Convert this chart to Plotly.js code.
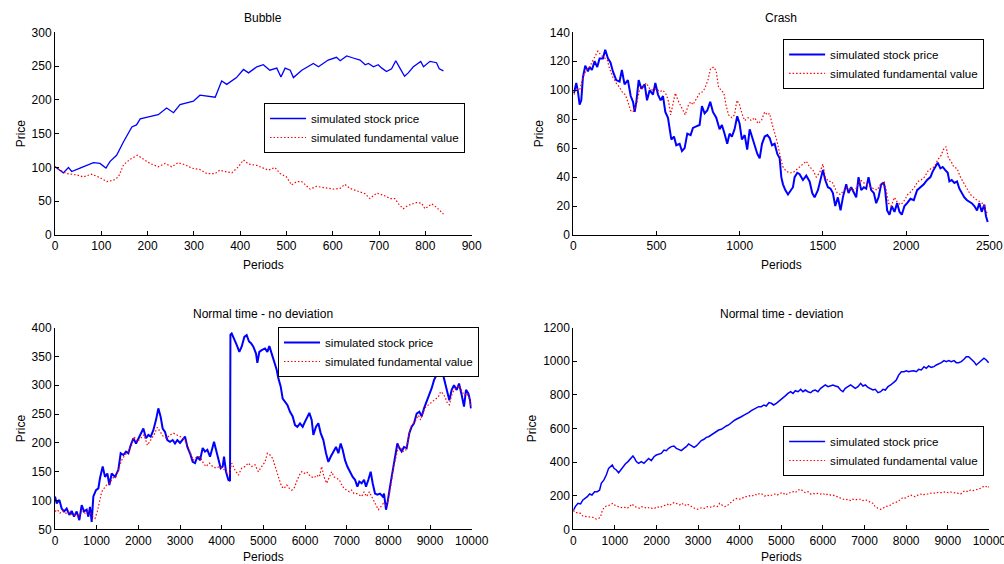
<!DOCTYPE html>
<html>
<head>
<meta charset="utf-8">
<script src="https://cdn.plot.ly/plotly-3.0.1.min.js"></script>
<style>html,body{margin:0;padding:0;background:#fff;}#chart{width:1004px;height:564px;}</style>
</head>
<body>
<div id="chart"></div>
<script>
// ---------- Data: [period, value] pairs ----------
const seriesNames = ["simulated stock price", "simulated fundamental value"];
const panelTitles = ["Bubble", "Crash", "Normal time - no deviation", "Normal time - deviation"];

const bubblePrice = [[0,101],[18,92],[29,100],[36,94],[54,99],[68,103],[83,107],[97,106],[110,99],[119,109],[133,118],[148,138],[166,160],[176,163],[184,172],[202,175],[223,178],[241,188],[256,181],[270,193],[299,198],[313,207],[335,205],[346,204],[360,228],[371,223],[392,233],[407,245],[418,240],[436,249],[450,252],[464,244],[479,247],[488,234],[497,247],[508,244],[515,233],[533,244],[558,254],[569,249],[590,259],[608,263],[616,258],[630,265],[644,262],[659,259],[670,252],[677,254],[688,249],[698,252],[706,247],[716,242],[727,246],[736,258],[745,247],[755,235],[763,240],[774,249],[790,257],[796,249],[810,257],[824,255],[830,246],[839,243]];
const bubbleFund = [[0,101],[11,96],[25,91],[47,89],[61,86],[79,90],[97,85],[112,79],[126,81],[137,86],[148,104],[162,112],[178,118],[191,112],[205,106],[223,101],[238,106],[252,101],[266,107],[281,104],[295,99],[313,97],[328,91],[346,91],[356,96],[367,94],[382,92],[396,101],[407,111],[418,105],[436,103],[450,99],[461,96],[475,100],[486,91],[500,86],[511,74],[522,79],[533,79],[551,68],[565,72],[583,70],[601,68],[616,69],[626,75],[637,69],[655,64],[670,61],[680,54],[695,62],[709,59],[724,54],[734,54],[742,46],[752,39],[763,44],[781,48],[792,47],[799,39],[814,46],[824,41],[839,31]];

const crashPrice = [[4,98],[18,105],[28,99],[38,90],[48,93],[58,109],[72,117],[88,113],[98,116],[112,114],[128,120],[144,116],[158,122],[178,122],[192,128],[208,122],[224,119],[238,113],[258,107],[278,106],[292,114],[308,104],[328,107],[345,96],[359,92],[369,85],[379,92],[393,107],[409,101],[429,104],[443,93],[459,100],[479,97],[493,105],[509,97],[525,93],[539,96],[553,85],[569,81],[579,73],[589,66],[605,68],[619,62],[639,63],[653,58],[669,60],[685,70],[705,69],[719,74],[739,75],[759,76],[773,89],[789,84],[805,86],[823,92],[839,85],[859,81],[879,73],[893,76],[909,70],[925,63],[939,70],[953,68],[969,73],[985,82],[999,77],[1013,66],[1030,69],[1045,59],[1060,73],[1074,68],[1090,63],[1106,56],[1120,53],[1134,63],[1150,68],[1166,69],[1180,67],[1194,62],[1210,63],[1226,56],[1240,53],[1250,40],[1260,35],[1274,31],[1290,28],[1306,31],[1320,33],[1330,40],[1346,43],[1360,42],[1380,38],[1400,41],[1420,37],[1436,29],[1450,26],[1470,31],[1486,39],[1500,45],[1514,38],[1530,33],[1546,32],[1560,29],[1574,20],[1590,26],[1606,17],[1620,26],[1640,35],[1654,29],[1670,33],[1686,29],[1700,26],[1714,40],[1730,31],[1746,33],[1760,32],[1774,40],[1790,31],[1806,29],[1820,22],[1834,26],[1850,35],[1866,36],[1874,31],[1886,17],[1900,14],[1914,20],[1930,16],[1946,22],[1960,16],[1974,14],[1990,20],[2006,22],[2026,25],[2046,24],[2066,31],[2086,33],[2106,35],[2126,38],[2146,40],[2160,44],[2174,47],[2190,50],[2206,46],[2220,47],[2234,45],[2250,43],[2260,37],[2274,38],[2290,36],[2306,37],[2320,32],[2334,29],[2350,26],[2366,24],[2380,23],[2394,22],[2410,20],[2426,17],[2440,22],[2454,16],[2470,21],[2480,13],[2490,9]];
const crashFund = [[4,97],[18,101],[38,100],[58,109],[78,114],[98,116],[124,122],[148,127],[168,124],[188,122],[204,121],[218,115],[238,109],[258,105],[278,102],[298,98],[312,97],[328,92],[345,86],[359,85],[379,90],[399,101],[419,102],[439,105],[459,101],[479,100],[499,101],[519,99],[539,100],[559,97],[573,92],[585,83],[599,90],[613,98],[629,93],[645,89],[659,86],[673,83],[689,89],[705,92],[719,90],[739,94],[759,98],[779,99],[793,102],[809,107],[825,115],[845,116],[859,113],[873,102],[889,100],[905,98],[919,89],[933,83],[953,81],[969,83],[983,93],[999,90],[1013,84],[1030,79],[1050,81],[1070,79],[1090,81],[1110,77],[1130,79],[1150,85],[1166,83],[1180,84],[1194,77],[1210,71],[1226,64],[1246,53],[1260,47],[1280,44],[1300,43],[1320,43],[1340,45],[1360,47],[1380,49],[1400,51],[1420,47],[1440,45],[1460,40],[1480,43],[1500,49],[1514,40],[1534,37],[1554,37],[1570,33],[1586,29],[1606,28],[1626,31],[1646,33],[1666,32],[1686,31],[1706,33],[1726,38],[1746,36],[1766,35],[1786,33],[1806,32],[1826,31],[1846,35],[1866,37],[1880,31],[1894,22],[1910,20],[1930,26],[1950,22],[1970,21],[1990,24],[2010,28],[2030,30],[2050,33],[2070,37],[2090,38],[2110,40],[2130,44],[2150,46],[2170,47],[2190,52],[2210,55],[2224,59],[2240,61],[2254,53],[2270,51],[2286,47],[2306,46],[2326,40],[2346,36],[2366,31],[2386,28],[2406,26],[2426,24],[2446,23],[2466,21],[2480,16],[2490,15]];

const noDevPrice = [[0,107],[40,95],[104,101],[160,86],[216,81],[280,86],[344,75],[400,82],[456,72],[520,81],[584,66],[640,92],[696,81],[760,84],[800,72],[840,89],[880,63],[920,107],[984,118],[1040,121],[1080,139],[1144,159],[1200,141],[1256,147],[1304,127],[1360,147],[1440,141],[1520,153],[1576,182],[1640,179],[1704,185],[1760,182],[1816,196],[1880,208],[1944,199],[2000,208],[2056,214],[2120,225],[2184,208],[2240,214],[2296,211],[2360,222],[2424,240],[2480,260],[2536,245],[2584,225],[2640,219],[2696,205],[2760,202],[2824,205],[2880,199],[2936,205],[3000,200],[3064,205],[3120,211],[3176,193],[3240,182],[3304,167],[3360,165],[3416,176],[3480,170],[3544,191],[3600,185],[3656,188],[3720,176],[3784,193],[3816,202],[3864,188],[3920,170],[3976,156],[4024,159],[4056,176],[4104,150],[4160,136],[4200,134],[4210,388],[4240,390],[4296,379],[4360,370],[4424,358],[4480,367],[4544,384],[4600,387],[4656,376],[4704,373],[4760,367],[4824,355],[4856,339],[4904,358],[4960,361],[5040,364],[5096,358],[5144,368],[5200,355],[5256,341],[5320,327],[5360,312],[5416,298],[5464,277],[5520,272],[5576,266],[5640,254],[5704,246],[5760,231],[5816,228],[5880,234],[5944,228],[6000,237],[6056,246],[6104,252],[6160,240],[6200,214],[6264,228],[6320,234],[6376,217],[6440,205],[6504,182],[6560,167],[6616,176],[6680,185],[6744,193],[6800,182],[6856,199],[6904,188],[6960,170],[7016,159],[7080,150],[7144,141],[7200,136],[7256,124],[7304,133],[7360,130],[7416,136],[7464,124],[7520,136],[7576,150],[7624,130],[7680,112],[7736,110],[7800,112],[7864,107],[7896,112],[7944,84],[7984,98],[8040,124],[8104,153],[8160,173],[8216,199],[8264,191],[8320,185],[8376,193],[8440,191],[8504,217],[8560,228],[8616,234],[8680,251],[8744,254],[8800,246],[8856,260],[8920,272],[8984,286],[9040,295],[9096,309],[9160,318],[9208,332],[9256,318],[9304,321],[9360,303],[9416,289],[9464,274],[9520,292],[9576,300],[9640,292],[9696,303],[9760,283],[9816,263],[9864,292],[9920,286],[9960,274],[9984,260]];
const noDevFund = [[0,81],[56,84],[120,78],[184,82],[264,78],[320,81],[400,75],[480,75],[560,72],[640,81],[720,78],[800,81],[880,75],[960,69],[1016,81],[1064,98],[1120,115],[1176,121],[1240,127],[1304,130],[1384,139],[1464,141],[1544,156],[1600,170],[1680,179],[1760,185],[1840,196],[1896,211],[1976,202],[2056,208],[2136,214],[2216,196],[2296,205],[2376,214],[2456,227],[2520,220],[2600,211],[2680,208],[2760,214],[2840,217],[2920,214],[3000,211],[3080,208],[3160,199],[3240,185],[3320,170],[3400,176],[3480,176],[3560,165],[3624,159],[3704,165],[3784,159],[3864,156],[3944,159],[4024,156],[4104,150],[4184,147],[4240,165],[4320,153],[4400,144],[4480,156],[4560,159],[4640,165],[4720,159],[4800,162],[4880,150],[4960,159],[5040,167],[5096,182],[5160,179],[5224,173],[5280,159],[5336,147],[5384,136],[5440,124],[5496,121],[5560,127],[5624,121],[5680,118],[5736,121],[5800,133],[5864,144],[5920,150],[5976,147],[6040,150],[6104,144],[6160,141],[6216,139],[6280,144],[6344,141],[6400,159],[6456,141],[6520,130],[6584,141],[6640,150],[6696,141],[6760,139],[6824,136],[6880,127],[6936,121],[7000,118],[7064,115],[7120,118],[7176,112],[7240,112],[7304,110],[7360,107],[7416,115],[7480,107],[7544,115],[7600,107],[7656,98],[7720,89],[7760,84],[7816,89],[7880,95],[7944,92],[8000,101],[8056,124],[8120,156],[8184,176],[8240,193],[8296,191],[8360,185],[8424,188],[8480,211],[8536,228],[8600,234],[8664,240],[8720,248],[8776,240],[8840,254],[8904,263],[8960,266],[9016,269],[9080,274],[9144,277],[9200,280],[9256,289],[9304,286],[9360,280],[9416,269],[9464,266],[9520,283],[9576,292],[9640,295],[9696,300],[9760,292],[9816,283],[9880,286],[9944,277],[9984,263]];

const devPrice = [[0,111],[48,135],[112,155],[176,151],[232,175],[288,184],[337,194],[393,210],[449,204],[513,224],[577,224],[633,234],[673,274],[737,294],[793,323],[849,363],[897,377],[938,383],[978,363],[1034,353],[1090,337],[1138,353],[1194,373],[1250,389],[1314,403],[1378,422],[1434,436],[1474,422],[1514,403],[1570,393],[1634,403],[1698,393],[1755,409],[1811,422],[1875,409],[1939,432],[1995,442],[2051,448],[2115,452],[2180,472],[2236,468],[2292,482],[2356,492],[2420,496],[2476,482],[2532,476],[2596,468],[2660,482],[2716,492],[2772,508],[2837,496],[2901,488],[2957,496],[3013,512],[3077,528],[3141,536],[3197,547],[3253,551],[3317,561],[3382,571],[3438,581],[3494,591],[3558,595],[3622,607],[3678,615],[3734,621],[3798,635],[3862,647],[3918,655],[3974,661],[4038,670],[4103,680],[4159,686],[4215,694],[4279,706],[4343,714],[4399,720],[4455,730],[4519,730],[4583,740],[4639,734],[4703,754],[4760,750],[4816,740],[4880,750],[4936,760],[4984,770],[5040,780],[5096,794],[5160,809],[5224,819],[5280,809],[5336,825],[5401,819],[5465,833],[5521,819],[5577,829],[5641,819],[5705,813],[5761,825],[5817,829],[5881,819],[5945,839],[6001,849],[6057,859],[6121,849],[6185,853],[6241,859],[6297,853],[6361,849],[6425,829],[6481,819],[6537,839],[6602,849],[6666,859],[6722,849],[6778,839],[6842,849],[6906,869],[6962,853],[7018,859],[7082,845],[7146,839],[7202,829],[7258,833],[7324,813],[7387,819],[7443,833],[7500,829],[7564,849],[7628,859],[7684,869],[7724,879],[7764,889],[7820,918],[7885,938],[7949,938],[8005,944],[8061,938],[8125,942],[8189,944],[8245,938],[8301,952],[8365,948],[8429,968],[8485,958],[8541,972],[8605,964],[8669,968],[8726,978],[8782,984],[8846,992],[8910,1004],[8966,998],[9022,1004],[9086,998],[9150,1004],[9206,992],[9262,992],[9326,998],[9390,1012],[9446,1027],[9502,1027],[9566,1012],[9630,998],[9686,978],[9743,992],[9807,1004],[9871,1018],[9927,1008],[9983,992]];
const devFund = [[0,111],[48,99],[112,99],[176,95],[232,79],[313,75],[393,75],[473,71],[553,61],[609,65],[657,75],[689,105],[737,129],[793,139],[849,141],[897,149],[954,155],[994,145],[1058,135],[1114,131],[1170,129],[1234,131],[1298,125],[1354,135],[1410,151],[1474,135],[1538,131],[1595,125],[1651,135],[1715,129],[1779,125],[1835,131],[1891,125],[1955,125],[2019,135],[2075,129],[2131,135],[2196,141],[2260,149],[2316,141],[2372,155],[2436,159],[2500,151],[2556,145],[2612,155],[2676,141],[2740,151],[2797,141],[2853,135],[2917,125],[2981,119],[3037,125],[3093,129],[3157,125],[3221,135],[3277,131],[3333,135],[3397,139],[3461,135],[3518,155],[3574,145],[3638,135],[3702,141],[3758,155],[3814,165],[3878,179],[3942,184],[3998,179],[4054,184],[4119,194],[4183,194],[4239,200],[4295,198],[4359,208],[4423,204],[4479,214],[4535,210],[4599,198],[4663,204],[4720,198],[4776,204],[4840,210],[4904,204],[4960,214],[5040,218],[5096,204],[5160,214],[5224,218],[5280,224],[5336,218],[5401,234],[5465,238],[5521,230],[5577,218],[5641,224],[5705,210],[5761,214],[5817,210],[5881,214],[5945,210],[6001,214],[6057,204],[6121,210],[6185,204],[6241,204],[6297,198],[6361,190],[6425,184],[6481,179],[6537,175],[6602,179],[6666,171],[6722,179],[6778,175],[6842,179],[6906,179],[6962,171],[7018,175],[7082,171],[7146,159],[7202,155],[7258,135],[7324,125],[7387,119],[7443,125],[7500,135],[7564,139],[7628,145],[7684,155],[7740,159],[7805,165],[7869,179],[7925,190],[7981,186],[8045,194],[8109,204],[8165,198],[8221,194],[8285,204],[8349,210],[8405,204],[8461,210],[8525,210],[8589,214],[8645,218],[8701,214],[8766,220],[8830,218],[8886,218],[8942,224],[9006,218],[9070,222],[9126,218],[9182,218],[9246,214],[9310,210],[9366,224],[9422,230],[9486,224],[9550,234],[9606,230],[9663,234],[9727,238],[9791,244],[9847,254],[9903,250],[9951,260],[9983,250]];

// ---------- Build traces ----------
const FONT = "Liberation Sans, Arial, Helvetica, sans-serif";
const panels = [
  {price: bubblePrice, fund: bubbleFund, xa: "x",  ya: "y",  lg: "legend",  w: 1.3},
  {price: crashPrice,  fund: crashFund,  xa: "x2", ya: "y2", lg: "legend2", w: 2.0},
  {price: noDevPrice,  fund: noDevFund,  xa: "x3", ya: "y3", lg: "legend3", w: 2.0},
  {price: devPrice,    fund: devFund,    xa: "x4", ya: "y4", lg: "legend4", w: 1.5}
];
const traces = [];
panels.forEach(p => {
  traces.push({
    type: "scatter", mode: "lines", name: seriesNames[0],
    x: p.price.map(d => d[0]), y: p.price.map(d => d[1]),
    xaxis: p.xa, yaxis: p.ya, legend: p.lg,
    line: {color: "#0000ff", width: p.w}
  });
  traces.push({
    type: "scatter", mode: "lines", name: seriesNames[1],
    x: p.fund.map(d => d[0]), y: p.fund.map(d => d[1]),
    xaxis: p.xa, yaxis: p.ya, legend: p.lg,
    line: {color: "#ff0000", width: 1.2, dash: "1.5px,2px"}
  });
});

function ax(letter, domain, anchor, range, dtick, title) {
  return {
    domain: domain, anchor: anchor, range: range, dtick: dtick, tick0: range[0],
    autorange: false, showgrid: false, zeroline: false,
    showline: true, linecolor: "#000", linewidth: 1, mirror: false,
    ticks: "inside", ticklen: 4, tickwidth: 1, tickcolor: "#000",
    tickformat: "d", ticklabeloverflow: "allow",
    tickfont: {family: FONT, size: 12, color: "#000"},
    title: {text: title, standoff: letter === "x" ? 8 : 3, font: {family: FONT, size: 12, color: "#000"}},
    fixedrange: true
  };
}
const XL = [0.0548, 0.4698], XR = [0.5710, 0.9854];
const YT = [0.5833, 0.9427], YB = [0.0615, 0.4190];

function lg(x, y) {
  return {x: x, y: y, xanchor: "left", yanchor: "top",
    bgcolor: "#fff", bordercolor: "#000", borderwidth: 1,
    font: {family: FONT, size: 11.6, color: "#000"}, itemwidth: 36, tracegroupgap: 0};
}

const layout = {
  width: 1004, height: 564,
  margin: {l: 0, r: 0, t: 0, b: 0},
  paper_bgcolor: "#fff", plot_bgcolor: "#fff",
  font: {family: FONT, size: 12, color: "#000"},
  showlegend: true,
  xaxis:  ax("x", XL, "y",  [0, 900],   100,  "Periods"),
  yaxis:  ax("y", YT, "x",  [0, 300],   50,   "Price"),
  xaxis2: ax("x", XR, "y2", [0, 2500],  500,  "Periods"),
  yaxis2: ax("y", YT, "x2", [0, 140],   20,   "Price"),
  xaxis3: ax("x", XL, "y3", [0, 10000], 1000, "Periods"),
  yaxis3: ax("y", YB, "x3", [50, 400],  50,   "Price"),
  xaxis4: ax("x", XR, "y4", [0, 10000], 1000, "Periods"),
  yaxis4: ax("y", YB, "x4", [0, 1200],  200,  "Price"),
  legend:  lg(0.263, 0.8174),
  legend2: lg(0.780, 0.9309),
  legend3: lg(0.2769, 0.4202),
  legend4: lg(0.780, 0.2447),
  annotations: [
    {text: panelTitles[0], x: (XL[0]+XL[1])/2, y: 0.968, xref: "paper", yref: "paper", showarrow: false, xanchor: "center", yanchor: "middle", font: {family: FONT, size: 12, color: "#000"}},
    {text: panelTitles[1], x: (XR[0]+XR[1])/2, y: 0.968, xref: "paper", yref: "paper", showarrow: false, xanchor: "center", yanchor: "middle", font: {family: FONT, size: 12, color: "#000"}},
    {text: panelTitles[2], x: (XL[0]+XL[1])/2, y: 0.4433, xref: "paper", yref: "paper", showarrow: false, xanchor: "center", yanchor: "middle", font: {family: FONT, size: 12, color: "#000"}},
    {text: panelTitles[3], x: (XR[0]+XR[1])/2, y: 0.4433, xref: "paper", yref: "paper", showarrow: false, xanchor: "center", yanchor: "middle", font: {family: FONT, size: 12, color: "#000"}}
  ]
};

Plotly.newPlot("chart", traces, layout, {staticPlot: true, displayModeBar: false});
</script>
</body>
</html>
